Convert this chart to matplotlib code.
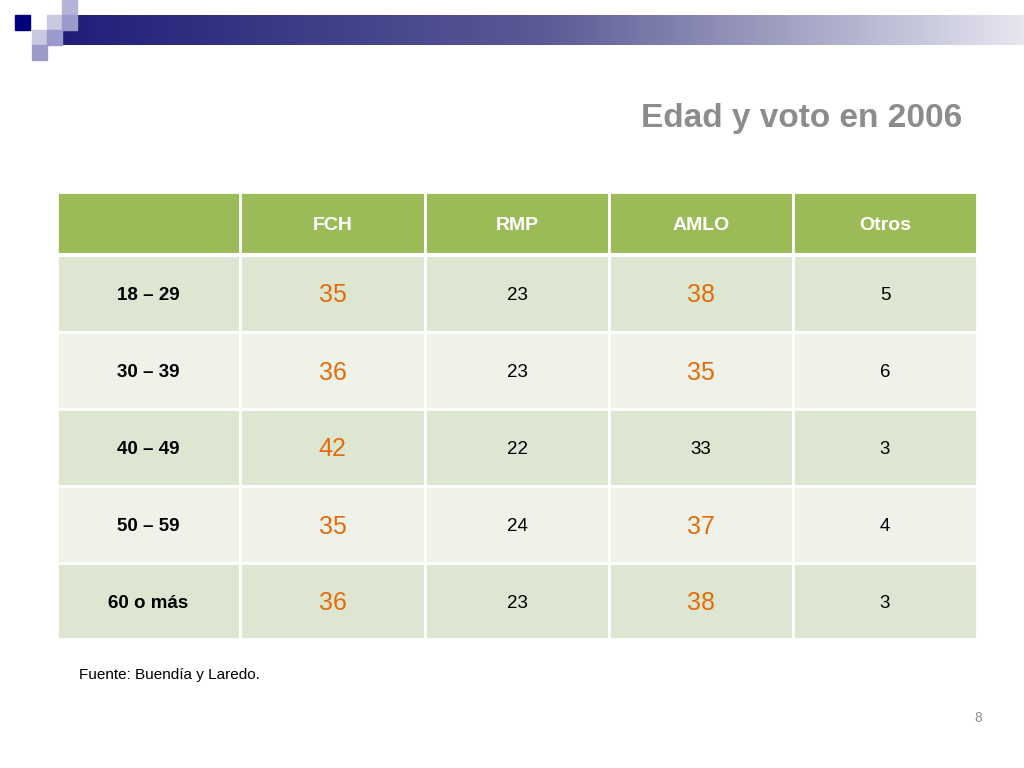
import numpy as np
import matplotlib.pyplot as plt
from matplotlib.patches import Rectangle
from matplotlib.colors import LinearSegmentedColormap

columns = ['FCH', 'RMP', 'AMLO', 'Otros']
age_groups = ['18 – 29', '30 – 39', '40 – 49', '50 – 59', '60 o más']
fch = [35, 36, 42, 35, 36]
rmp = [23, 23, 22, 24, 23]
amlo = [38, 35, 33, 37, 38]
otros = [5, 6, 3, 4, 3]
# cells shown large and orange
highlight = {'FCH': [1, 1, 1, 1, 1], 'RMP': [0, 0, 0, 0, 0],
             'AMLO': [1, 1, 0, 1, 1], 'Otros': [0, 0, 0, 0, 0]}

W, H = 1024, 768
fig = plt.figure(figsize=(W / 100, H / 100), dpi=100)
ax = fig.add_axes([0, 0, 1, 1])
ax.set_xlim(0, W)
ax.set_ylim(H, 0)
ax.axis('off')

# header decoration
grad = np.linspace(0, 1, 256).reshape(1, -1)
cmap = LinearSegmentedColormap.from_list('bar', ['#1f1f7a', '#5a5a96', '#e6e6f0'])
ax.imshow(grad, cmap=cmap, extent=(62, W, 45, 15), aspect='auto', zorder=1)
for (x, y, c) in [(15, 15, '#00007f'), (62, 0, '#b4b4d8'), (47, 15, '#c8c8e0'),
                  (62, 15, '#9a9acb'), (32, 30, '#c8c8e0'), (47, 30, '#9a9acb'),
                  (32, 45, '#9a9acb')]:
    ax.add_patch(Rectangle((x, y), 15, 15, color=c, zorder=2))

ax.text(962, 118, 'Edad y voto en 2006', ha='right', va='center',
        fontsize=24, fontweight='bold', color='#8c8c8c', family='Liberation Sans')

xe = [57, 240, 425, 609, 793, 977]
ye = [192, 255, 332, 409, 486, 563, 639]
values = {'FCH': fch, 'RMP': rmp, 'AMLO': amlo, 'Otros': otros}
row_colors = ['#dde6d0', '#eef2e8']

for j in range(5):
    ax.add_patch(Rectangle((xe[j], ye[0]), xe[j + 1] - xe[j], ye[1] - ye[0],
                           facecolor='#9bbb59', edgecolor='white', lw=2))
for j, col in enumerate(columns):
    ax.text((xe[j + 1] + xe[j + 2]) / 2, (ye[0] + ye[1]) / 2 + 2, col, ha='center', va='center',
            fontsize=14, fontweight='bold', color='white', family='Liberation Sans')

for i, grp in enumerate(age_groups):
    y0, y1 = ye[i + 1], ye[i + 2]
    for j in range(5):
        ax.add_patch(Rectangle((xe[j], y0), xe[j + 1] - xe[j], y1 - y0,
                               facecolor=row_colors[i % 2], edgecolor='white', lw=2))
    ym = (y0 + y1) / 2 + 2
    ax.text((xe[0] + xe[1]) / 2, ym, grp, ha='center', va='center', fontsize=13.5,
            fontweight='bold', color='black', family='Liberation Sans')
    for j, col in enumerate(columns):
        big = highlight[col][i]
        ax.text((xe[j + 1] + xe[j + 2]) / 2, ym, str(values[col][i]), ha='center', va='center',
                fontsize=18 if big else 13.5, color='#e46c0a' if big else 'black',
                family='Liberation Sans')
# thicker line under header
ax.plot([xe[0], xe[-1]], [ye[1], ye[1]], color='white', lw=3)

ax.text(79, 675, 'Fuente: Buendía y Laredo.', ha='left', va='center', fontsize=11,
        color='black', family='Liberation Sans')
ax.text(982, 718, '8', ha='right', va='center', fontsize=10, color='#8c8c8c',
        family='Liberation Sans')

fig.savefig('out.png', dpi=100)
